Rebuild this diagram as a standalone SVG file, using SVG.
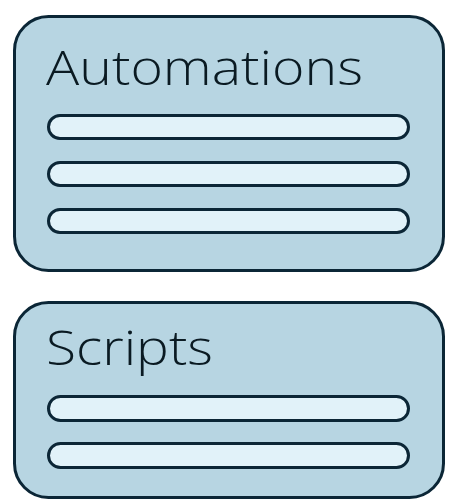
<svg xmlns="http://www.w3.org/2000/svg" width="451" height="503" viewBox="0 0 451 503">
<style>
.box{fill:#b7d5e2;stroke:#0b2636;stroke-width:3}
.bar{fill:#e1f2f9;stroke:#0b2636;stroke-width:3}
.t{font-family:"Open Sans","Liberation Sans",sans-serif;font-weight:300;font-size:48px;fill:#0a1a22}
</style>
<rect width="451" height="503" fill="#ffffff"/>
<g id="automations">
<rect class="box" x="14.5" y="16.5" width="429" height="254" rx="34"/>
<text class="t" x="46" y="85" textLength="317" lengthAdjust="spacingAndGlyphs">Automations</text>
<rect class="bar" x="48.5" y="115.5" width="360" height="23" rx="11.5"/>
<rect class="bar" x="48.5" y="162.5" width="360" height="23" rx="11.5"/>
<rect class="bar" x="48.5" y="209.5" width="360" height="23" rx="11.5"/>
</g>
<g id="scripts">
<rect class="box" x="14.5" y="302.5" width="429" height="195" rx="34"/>
<text class="t" x="46" y="365" textLength="167" lengthAdjust="spacingAndGlyphs">Scripts</text>
<rect class="bar" x="48.5" y="396.5" width="360" height="24" rx="12"/>
<rect class="bar" x="48.5" y="443.5" width="360" height="24" rx="12"/>
</g>
<g id="connectors"></g>
</svg>
